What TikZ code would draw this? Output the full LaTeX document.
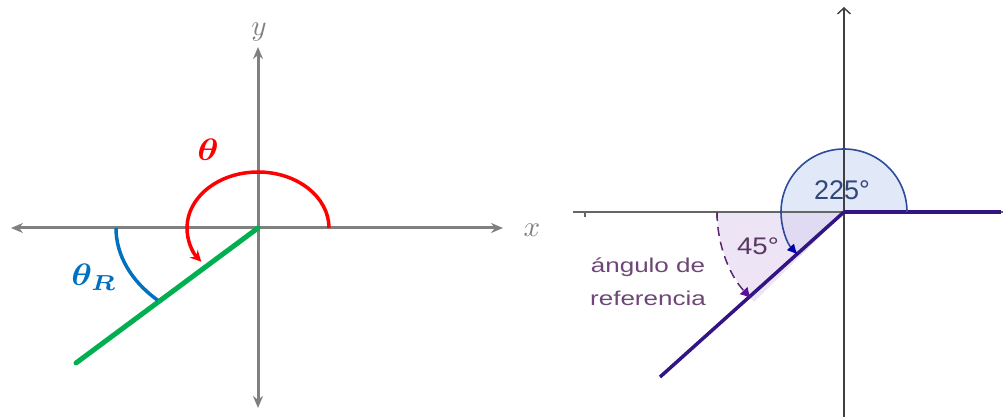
\documentclass[tikz,border=0pt]{standalone}
\usepackage{fontspec}
\usepackage{amsmath}
\usepackage{graphicx}
\setsansfont{Liberation Sans}
\usetikzlibrary{arrows.meta}
\definecolor{axgray}{RGB}{128,128,128}
\definecolor{tred}{RGB}{255,0,0}
\definecolor{tgreen}{RGB}{0,176,80}
\definecolor{tblue}{RGB}{0,112,192}
\definecolor{dpurple}{RGB}{50,20,130}
\definecolor{arcblue}{RGB}{45,75,155}
\definecolor{fillblue}{RGB}{215,225,245}
\definecolor{filllav}{RGB}{225,210,240}
\definecolor{dashpurple}{RGB}{90,40,110}
\definecolor{txtblue}{RGB}{50,70,120}
\definecolor{txtpurple}{RGB}{110,70,120}
\tikzset{
  axis/.style={draw=axgray, line width=3pt, {Stealth[length=12pt,width=10pt]}-{Stealth[length=12pt,width=10pt]}},
  axlabel/.style={text=axgray},
  rax/.style={draw=black!75, line width=1.4pt},
  sanslab/.style={font=\sffamily\fontsize{20}{22}\selectfont},
}
\begin{document}
\begin{tikzpicture}[x=1pt,y=1pt]
\useasboundingbox (0,0) rectangle (1003,417);
% ---------- left diagram ----------
\coordinate (O1) at (258,189);
\coordinate (xl) at (11,189);
\coordinate (xr) at (503,189);
\coordinate (yt) at (258,370);
\coordinate (yb) at (258,9);
\coordinate (G) at (76,54);
\draw[axis] (xl) -- (xr);
\draw[axis] (yb) -- (yt);
\node[axlabel] (xlab) at (532,187) {\scalebox{2.9}{$x$}};
\node[axlabel] (ylab) at (259,385) {\scalebox{2.9}{$y$}};
\draw[tgreen, line width=5pt, line cap=round] (O1) -- (G);
\draw[tred, line width=3.5pt, -{Stealth[length=11pt,width=11pt]}]
  ([xshift=71pt]O1) arc[start angle=0, end angle=217, x radius=71, y radius=56];
\draw[tblue, line width=3.5pt]
  ([xshift=-142pt]O1) arc[start angle=180, end angle=225, x radius=142, y radius=102];
\node[text=tred] (th) at (208,267) {\scalebox{3.6}[3.1]{$\boldsymbol{\theta}$}};
\node[text=tblue] (thR) at (94,140) {\scalebox{3.5}[3.1]{$\boldsymbol{\theta_R}$}};
% ---------- right diagram ----------
\coordinate (O2) at (844,205);
\coordinate (P) at (660,40);
\fill[fillblue, opacity=0.75] (O2) -- ([xshift=63pt]O2) arc[start angle=0, end angle=225, radius=63] -- cycle;
\fill[filllav, opacity=0.6] (O2) -- ([xshift=-127pt]O2) arc[start angle=180, end angle=225, radius=127] -- cycle;
\draw[black!75, line width=1.4pt, -{Straight Barb[length=6pt,width=13pt]}] (844,0) -- (844,410);
\draw[draw=black!60, line width=1.6pt] (573,205) -- (1003,205);
\draw[black!60, line width=1.2pt] (585,205) -- (585,200);
\draw[black!60, line width=1.2pt] (717,205) -- (717,199);
\draw[dpurple, line width=3.5pt] (O2) -- (1001,205);
\draw[dpurple, line width=3.5pt] (O2) -- (P);
\draw[arcblue, line width=1.6pt, -{Latex[length=11pt,width=10pt,color=blue!70!black]}]
  ([xshift=63pt]O2) arc[start angle=0, end angle=223, radius=63];
\draw[dashpurple, line width=1.5pt, dash pattern=on 9pt off 6pt, -{Latex[length=11pt,width=11pt,color=dpurple!80!magenta]}]
  ([xshift=-127pt]O2) arc[start angle=180, end angle=223, radius=127];
\node[text=txtblue, font=\sffamily\fontsize{27}{28}\selectfont] (l225) at (842,227) {225°};
\node[text=txtpurple!80!black, font=\sffamily\fontsize{24}{26}\selectfont] (l45) at (758,171) {\scalebox{1.15}[1]{45°}};
\node[sanslab, text=txtpurple] (l1) at (648,150) {\scalebox{1.3}[1]{ángulo de}};
\node[sanslab, text=txtpurple] (l2) at (648,119) {\scalebox{1.3}[1]{referencia}};
\end{tikzpicture}
\end{document}
